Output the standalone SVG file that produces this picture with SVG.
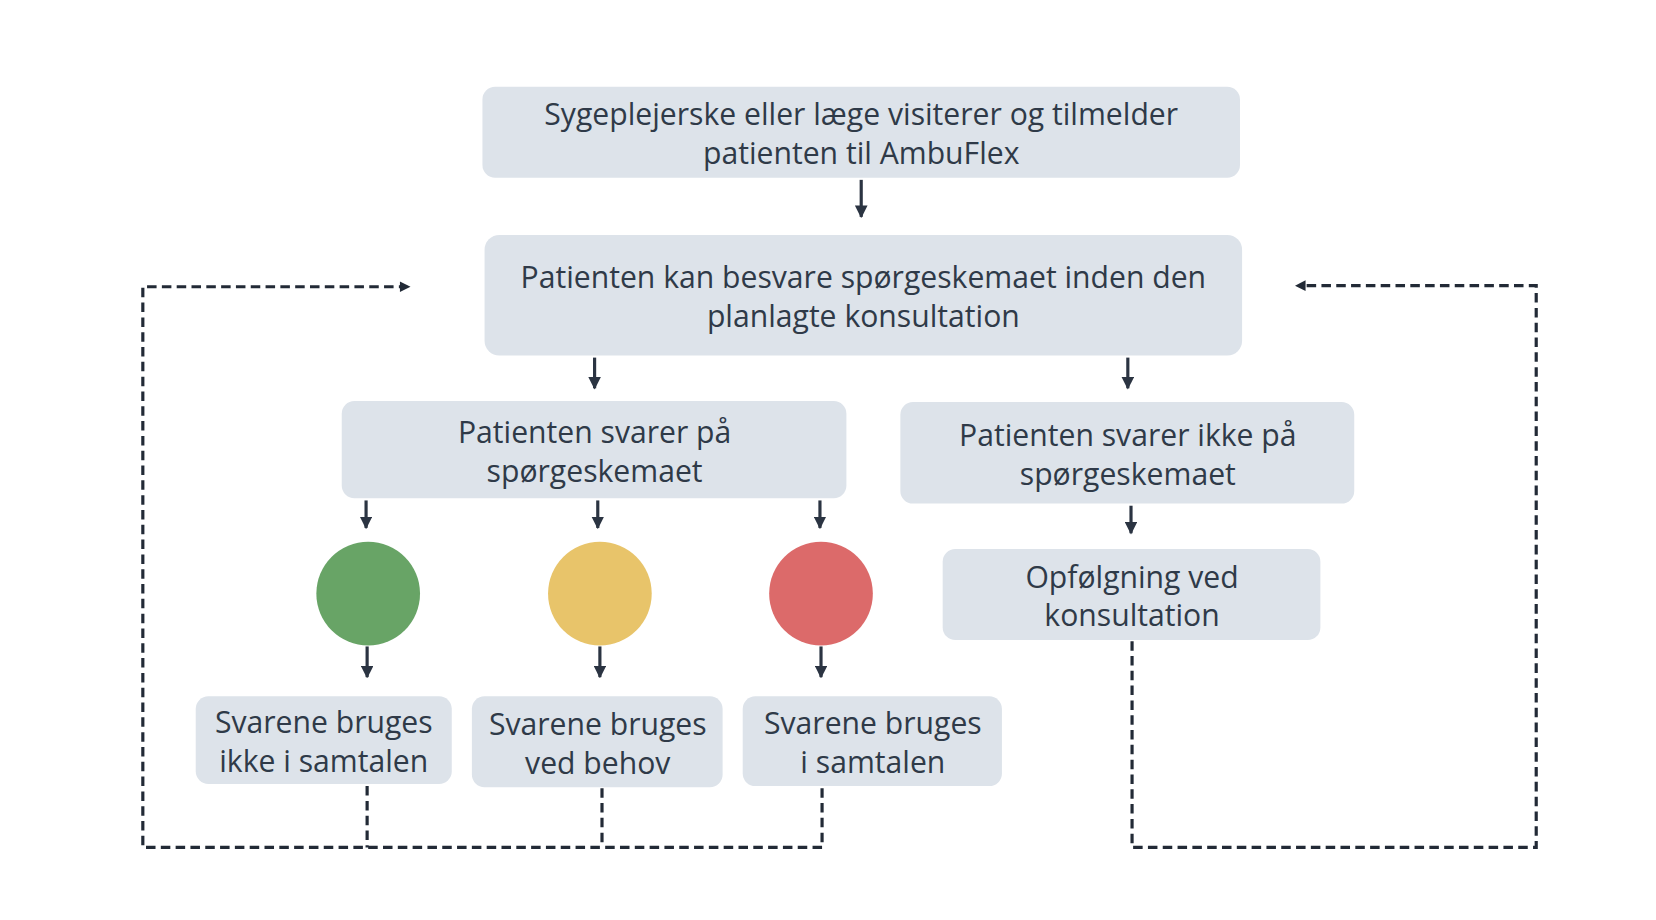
<svg xmlns="http://www.w3.org/2000/svg" width="1656" height="920" viewBox="0 0 1656 920">
<style>
.box{fill:#dde3ea}
.t{font-family:"Open Sans","Noto Sans","Liberation Sans",sans-serif;font-size:28.5px;fill:#2f3a48;text-anchor:middle}
.a{stroke:#2b3442;stroke-width:3;fill:none;marker-end:url(#ah)}
.d{stroke:#222a36;stroke-width:3;fill:none;stroke-dasharray:9 5}
</style>
<defs><marker id="ah" viewBox="0 0 10 10" refX="9" refY="5" markerWidth="4" markerHeight="4" orient="auto"><path d="M0,0L10,5L0,10z" fill="#2b3442"/></marker></defs>
<rect width="1656" height="920" fill="#fff"/>
<g transform="scale(1.058)">
<g id="n1"><rect class="box" x="456" y="82" width="716" height="86" rx="12"/><text class="t" x="814" y="118">Sygeplejerske eller læge visiterer og tilmelder</text><text class="t" x="814" y="155">patienten til AmbuFlex</text></g>
<g id="n2"><rect class="box" x="458" y="222" width="716" height="114" rx="14"/><text class="t" x="816" y="272">Patienten kan besvare spørgeskemaet inden den</text><text class="t" x="816" y="309">planlagte konsultation</text></g>
<g id="n3"><rect class="box" x="323" y="379" width="477" height="92" rx="12"/><text class="t" x="562" y="419">Patienten svarer på</text><text class="t" x="562" y="456">spørgeskemaet</text></g>
<g id="n4"><rect class="box" x="851" y="380" width="429" height="96" rx="12"/><text class="t" x="1066" y="422">Patienten svarer ikke på</text><text class="t" x="1066" y="458">spørgeskemaet</text></g>
<g id="n5"><rect class="box" x="891" y="519" width="357" height="86" rx="12"/><text class="t" x="1070" y="556">Opfølgning ved</text><text class="t" x="1070" y="592">konsultation</text></g>
<g id="green"><circle cx="348" cy="561" r="49" fill="#68a466"/></g>
<g id="yellow"><circle cx="567" cy="561" r="49" fill="#e8c46a"/></g>
<g id="red"><circle cx="776" cy="561" r="49" fill="#dc6a6a"/></g>
<g id="b1"><rect class="box" x="185" y="658" width="242" height="83" rx="12"/><text class="t" x="306" y="693">Svarene bruges</text><text class="t" x="306" y="730">ikke i samtalen</text></g>
<g id="b2"><rect class="box" x="446" y="658" width="237" height="86" rx="12"/><text class="t" x="565" y="695">Svarene bruges</text><text class="t" x="565" y="732">ved behov</text></g>
<g id="b3"><rect class="box" x="702" y="658" width="245" height="85" rx="12"/><text class="t" x="825" y="694">Svarene bruges</text><text class="t" x="825" y="731">i samtalen</text></g>
<g id="connectors">
<path class="a" d="M814 170V205"/>
<path class="a" d="M562 338V367"/>
<path class="a" d="M1066 338V367"/>
<path class="a" d="M346 473V499"/>
<path class="a" d="M565 473V499"/>
<path class="a" d="M775 473V499"/>
<path class="a" d="M1069 478V504"/>
<path class="a" d="M347 611V640"/>
<path class="a" d="M567 611V640"/>
<path class="a" d="M776 611V640"/>
<path class="d" d="M347 743V801M569 745V801M777 745V801H135V271H380"/>
<path d="M378 266L388 271L378 276z" fill="#222a36"/>
<path class="d" d="M1070 606V801H1452V270H1232"/>
<path d="M1234 265L1224 270L1234 275z" fill="#222a36"/>
</g>
</g>
</svg>
